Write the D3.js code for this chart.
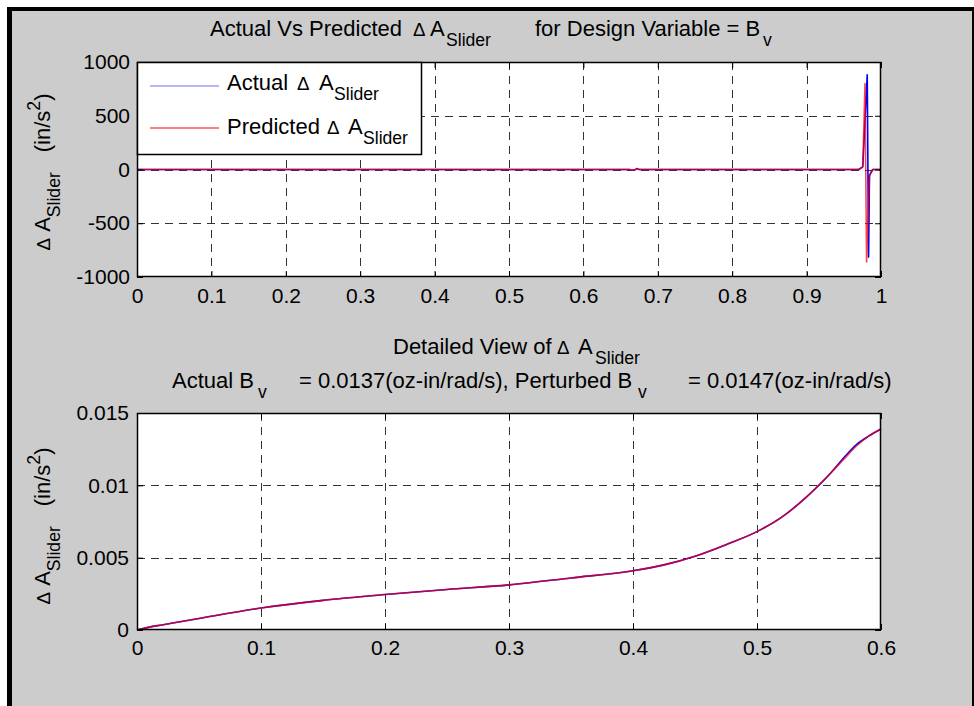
<!DOCTYPE html>
<html>
<head>
<meta charset="utf-8">
<script src="https://cdn.jsdelivr.net/npm/d3@7"></script>
<style>
  html, body { margin: 0; padding: 0; background: #fff; }
  svg { display: block; }
  text { font-family: "Liberation Sans", Arial, Helvetica, sans-serif; fill: #000; white-space: pre; }
</style>
</head>
<body>
<svg id="fig" width="974" height="706"></svg>
<script>
// ---- Full time range (normalised time 0..1) ----
const fullTimeActual     = [0, 0.662, 0.665, 0.669, 0.672, 0.675, 0.970, 0.9755, 0.9815, 0.9833, 0.9845, 0.986, 0.989, 1];
const fullActual         = [0, 0, -6, -4, 8, 0, 0, 25, 880, -815, -60, -35, 0, 0];
const fullTimePredicted  = [0, 0.662, 0.665, 0.669, 0.672, 0.675, 0.970, 0.9755, 0.9785, 0.9806, 0.9845, 0.986, 0.989, 1];
const fullPredicted      = [0, 0, -6, -3, 9, 0, 0, 25, 800, -860, -60, -35, 0, 0];

// ---- Detailed view (first part of the time range) ----
const detailTime      = [0, 0.01, 0.02, 0.05, 0.1, 0.15, 0.2, 0.25, 0.3, 0.35, 0.4, 0.425, 0.45, 0.475, 0.5, 0.52, 0.54, 0.56, 0.57, 0.58, 0.59, 0.6];
const detailActual    = [0, 0.0002, 0.00035, 0.0008, 0.00152, 0.00205, 0.00245, 0.0028, 0.00312, 0.0036, 0.0041, 0.0045, 0.0051, 0.0059, 0.0068, 0.0078, 0.0092, 0.0109, 0.0119, 0.0128, 0.0134, 0.0139];
const detailPredicted = [0, 0.0002, 0.00035, 0.0008, 0.00152, 0.00205, 0.00245, 0.0028, 0.00312, 0.0036, 0.0041, 0.0045, 0.0051, 0.0059, 0.0068, 0.0078, 0.0092, 0.0109, 0.0118, 0.0127, 0.0134, 0.0139];

// ---- Ticks ----
const fullXTicks   = [0, 0.1, 0.2, 0.3, 0.4, 0.5, 0.6, 0.7, 0.8, 0.9, 1];
const fullYTicks   = [-1000, -500, 0, 500, 1000];
const detailXTicks = [0, 0.1, 0.2, 0.3, 0.4, 0.5, 0.6];
const detailYTicks = [0, 0.005, 0.01, 0.015];

const seriesColors = { actual: "#0000ff", predicted: "#ff0000" };
const TICK_FS = 21;   // tick labels
const FS = 22;        // titles, legend, axis labels

const svg = d3.select("#fig");

// figure frame: white edge, black border, grey panel
svg.append("rect").attr("width", 974).attr("height", 706).attr("fill", "#fff");
svg.append("rect").attr("x", 7).attr("y", 7).attr("width", 967).attr("height", 699).attr("fill", "#000");
svg.append("rect").attr("x", 12).attr("y", 11).attr("width", 960).attr("height", 695).attr("fill", "#cccccc");

// rich text: runs of normal / subscript / superscript / symbol text,
// each run optionally placed at its own x or nudged by dx
function rich(textSel, segs, fs) {
  let shift = 0;
  segs.forEach(s => {
    const ts = textSel.append("tspan").text(s.t);
    const type = s.k || "n";
    const target = type === "sub" ? 0.45 * fs : type === "sup" ? -0.45 * fs : 0;
    if (target - shift !== 0) ts.attr("dy", target - shift);
    shift = target;
    if (type === "sub" || type === "sup") ts.style("font-size", (fs * 0.8) + "px");
    if (type === "sym") ts.style("font-size", (fs * 0.85) + "px");
    if (s.x != null) ts.attr("x", s.x);
    if (s.dx) ts.attr("dx", s.dx);
  });
  return textSel;
}

function panel(opts) {
  const { box, xDomain, yDomain, xTicks, yTicks, fmtX, fmtY } = opts;
  const x = d3.scaleLinear().domain(xDomain).range([box.x0, box.x1]);
  const y = d3.scaleLinear().domain(yDomain).range([box.y1, box.y0]);
  const g = svg.append("g");

  g.append("rect").attr("x", box.x0).attr("y", box.y0)
    .attr("width", box.x1 - box.x0).attr("height", box.y1 - box.y0).attr("fill", "#fff");

  // dashed grid
  const grid = g.append("g").attr("stroke", "#333").attr("stroke-width", 1).attr("stroke-dasharray", "8,6");
  grid.selectAll("line.vx").data(xTicks.slice(1, -1)).join("line")
    .attr("x1", d => Math.round(x(d)) + 0.5).attr("x2", d => Math.round(x(d)) + 0.5)
    .attr("y1", box.y0).attr("y2", box.y1);
  grid.selectAll("line.hy").data(yTicks.slice(1, -1)).join("line")
    .attr("y1", d => Math.round(y(d)) + 0.5).attr("y2", d => Math.round(y(d)) + 0.5)
    .attr("x1", box.x0).attr("x2", box.x1);

  // data lines
  const dataG = g.append("g").attr("fill", "none");
  opts.series.forEach(s => {
    const pts = s.t.map((t, i) => [t, s.v[i]]);
    dataG.append("path").datum(pts)
      .attr("stroke", s.color).attr("stroke-width", s.width).attr("opacity", s.opacity)
      .attr("stroke-linejoin", "round")
      .attr("d", d3.line().curve(opts.curve || d3.curveLinear).x(d => x(d[0])).y(d => y(d[1])));
  });

  // axes with inward ticks on all four sides
  const ax = g.append("g");
  ax.append("g").attr("transform", `translate(0,${box.y1})`)
    .call(d3.axisBottom(x).tickValues(xTicks).tickFormat(fmtX).tickSize(-6).tickPadding(opts.xPad).tickSizeOuter(0));
  ax.append("g").attr("transform", `translate(0,${box.y0})`)
    .call(d3.axisTop(x).tickValues(xTicks).tickFormat("").tickSize(-6).tickSizeOuter(0));
  ax.append("g").attr("transform", `translate(${box.x0},0)`)
    .call(d3.axisLeft(y).tickValues(yTicks).tickFormat(fmtY).tickSize(-6).tickPadding(opts.yPad).tickSizeOuter(0));
  ax.append("g").attr("transform", `translate(${box.x1},0)`)
    .call(d3.axisRight(y).tickValues(yTicks).tickFormat("").tickSize(-6).tickSizeOuter(0));
  ax.selectAll(".domain").remove();
  ax.selectAll(".tick line").attr("stroke", "#000");
  ax.selectAll(".tick text").style("font-size", TICK_FS + "px").style("font-family", "'Liberation Sans', Arial, sans-serif");

  g.append("rect").attr("x", box.x0 + 0.5).attr("y", box.y0 + 0.5)
    .attr("width", box.x1 - box.x0 - 1).attr("height", box.y1 - box.y0 - 1)
    .attr("fill", "none").attr("stroke", "#000").attr("stroke-width", 1.5);
  return { x, y, g };
}

const fmtPlain = d => String(d);

// ---------- Top panel ----------
const topBox = { x0: 137, x1: 881, y0: 62, y1: 277 };
panel({
  box: topBox, xDomain: [0, 1], yDomain: [-1000, 1000],
  xTicks: fullXTicks, yTicks: fullYTicks, fmtX: fmtPlain, fmtY: fmtPlain,
  xPad: 11, yPad: 7,
  series: [
    { t: fullTimeActual, v: fullActual, color: seriesColors.actual, width: 1.6, opacity: 1 },
    { t: fullTimePredicted, v: fullPredicted, color: seriesColors.predicted, width: 1.6, opacity: 0.72 }
  ]
});

// legend
const leg = svg.append("g");
leg.append("rect").attr("x", 137.5).attr("y", 62.5).attr("width", 284).attr("height", 92)
  .attr("fill", "#fff").attr("stroke", "#000").attr("stroke-width", 1.5);
leg.append("line").attr("x1", 150).attr("x2", 219).attr("y1", 86).attr("y2", 86)
  .attr("stroke", "#6f6fff").attr("stroke-width", 1.2);
leg.append("line").attr("x1", 150).attr("x2", 219).attr("y1", 128).attr("y2", 128)
  .attr("stroke", seriesColors.predicted).attr("stroke-width", 1);
rich(leg.append("text").attr("x", 227).attr("y", 90).style("font-size", FS + "px"),
  [{ t: "Actual" }, { t: "Δ", k: "sym", x: 297 }, { t: "A", x: 319 }, { t: "Slider", k: "sub", x: 334 }], FS);
rich(leg.append("text").attr("x", 227).attr("y", 134).style("font-size", FS + "px"),
  [{ t: "Predicted" }, { t: "Δ", k: "sym", x: 327 }, { t: "A", x: 348 }, { t: "Slider", k: "sub", x: 363 }], FS);

// top title
rich(svg.append("text").attr("x", 210).attr("y", 36).style("font-size", FS + "px"),
  [{ t: "Actual Vs Predicted" }, { t: "Δ", k: "sym", x: 413 }, { t: "A", x: 430 }, { t: "Slider", k: "sub", x: 446 },
   { t: "for Design Variable = B", x: 535 }, { t: "v", k: "sub", x: 763 }], FS);

// rotated y-axis label
function yLabel(cx, cy) {
  const t = svg.append("text").attr("transform", `translate(${cx},${cy}) rotate(-90)`)
    .attr("text-anchor", "middle").style("font-size", FS + "px");
  rich(t, [{ t: "Δ", k: "sym" }, { t: " A" }, { t: "Slider", k: "sub" }, { t: "(in/s", dx: 20 }, { t: "2", k: "sup" }, { t: ")" }], FS);
}
yLabel(50, 172);

// ---------- Bottom panel ----------
const botBox = { x0: 137, x1: 881, y0: 413, y1: 630 };
panel({
  box: botBox, xDomain: [0, 0.6], yDomain: [0, 0.015],
  xTicks: detailXTicks, yTicks: detailYTicks, fmtX: fmtPlain, fmtY: fmtPlain,
  xPad: 10, yPad: 8, curve: d3.curveMonotoneX,
  series: [
    { t: detailTime, v: detailActual, color: seriesColors.actual, width: 1.6, opacity: 1 },
    { t: detailTime, v: detailPredicted, color: seriesColors.predicted, width: 1.6, opacity: 0.72 }
  ]
});

rich(svg.append("text").attr("x", 393).attr("y", 354).style("font-size", FS + "px"),
  [{ t: "Detailed View of" }, { t: "Δ", k: "sym", x: 557 }, { t: "A", x: 578 }, { t: "Slider", k: "sub", x: 595 }], FS);
rich(svg.append("text").attr("x", 172).attr("y", 388).style("font-size", FS + "px"),
  [{ t: "Actual B" }, { t: "v", k: "sub", x: 258 }, { t: "= 0.0137(oz-in/rad/s), Perturbed B", x: 299 },
   { t: "v", k: "sub", x: 638 }, { t: "= 0.0147(oz-in/rad/s)", x: 688 }], FS);

yLabel(50, 526);
</script>
</body>
</html>
